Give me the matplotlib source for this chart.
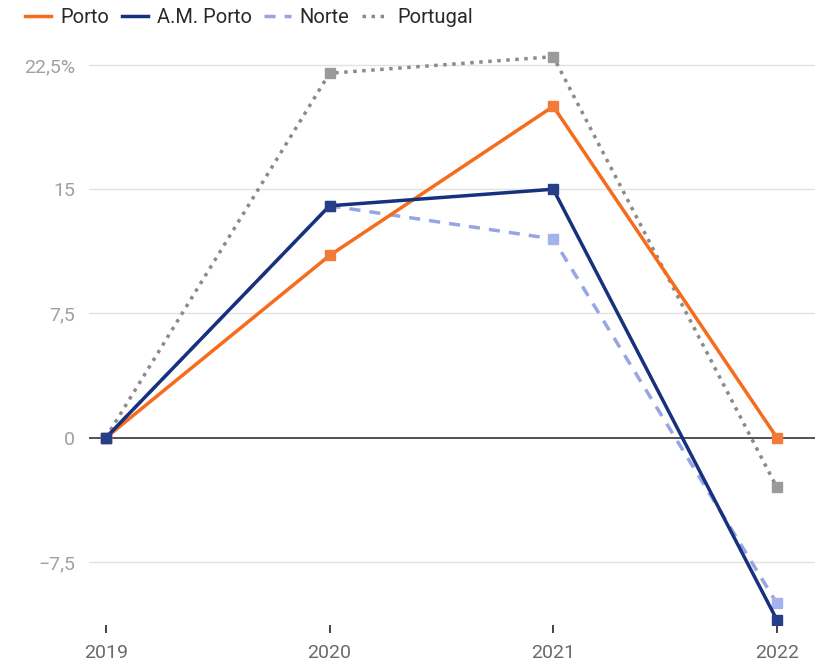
import numpy as np
import matplotlib.pyplot as plt
from matplotlib.ticker import FixedLocator

plt.rcParams['font.family'] = ['Roboto', 'DejaVu Sans']

years = ['2019', '2020', '2021', '2022']
porto = [0, 11, 20, 0]
am_porto = [0, 14, 15, -11]
norte = [0, 14, 12, -10]
portugal = [0, 22, 23, -3]

yticks = [-7.5, 0, 7.5, 15, 22.5]
yticklabels = ['\u22127,5', '0', '7,5', '15', '22,5%']

fig = plt.figure(figsize=(8.15, 6.61), dpi=100)
ax = fig.add_axes([0.109, 0.0545, 0.891, 0.8723])

x = np.arange(len(years))

# gridlines and zero line
for t in yticks:
    if t != 0:
        ax.axhline(t, color='#e2e2e2', lw=1, zorder=0)
ax.axhline(0, color='#222222', lw=1.1, zorder=1)

ax.plot(x, portugal, color='#8a8a8a', lw=2.5, ls=(0, (1, 1.6)),
        marker='s', ms=6.5, mfc='#9a9a9a', mec='#9a9a9a', label='Portugal', zorder=2)
ax.plot(x, norte, color='#98a5e2', lw=2.5, ls=(0, (3.2, 2.6)),
        marker='s', ms=6.5, mfc='#a6b2ec', mec='#a6b2ec', label='Norte', zorder=3)
ax.plot(x, porto, color='#f76b1c', lw=2.5,
        marker='s', ms=6.5, mfc='#f47a3a', mec='#f47a3a', label='Porto', zorder=4)
ax.plot(x, am_porto, color='#16317d', lw=2.5,
        marker='s', ms=6.5, mfc='#263f88', mec='#263f88', label='A.M. Porto', zorder=5)

ax.set_xlim(-0.076, 3.17)
ax.set_ylim(-11.3, 23.5)

ax.yaxis.set_major_locator(FixedLocator(yticks))
ax.set_yticklabels(yticklabels, color='#a0a0a0', fontsize=14)
ax.tick_params(axis='y', length=0, pad=10)

ax.set_xticks(x)
ax.set_xticklabels(years, color='#6a6a6a', fontsize=14)
ax.tick_params(axis='x', length=6, width=1.2, color='#222222', pad=8, direction='out')

for s in ax.spines.values():
    s.set_visible(False)

handles, labels = ax.get_legend_handles_labels()
order = [2, 3, 1, 0]
leg = fig.legend([handles[i] for i in order], [labels[i] for i in order],
                 loc='upper left', bbox_to_anchor=(0.016, 1.006), ncol=4,
                 frameon=False, fontsize=14.5, handlelength=1.3, handletextpad=0.45,
                 columnspacing=0.62, borderaxespad=0.2, labelcolor='#2a2a2a')
for h in leg.legend_handles:
    h.set_marker('')

fig.savefig('out.png', dpi=100)
